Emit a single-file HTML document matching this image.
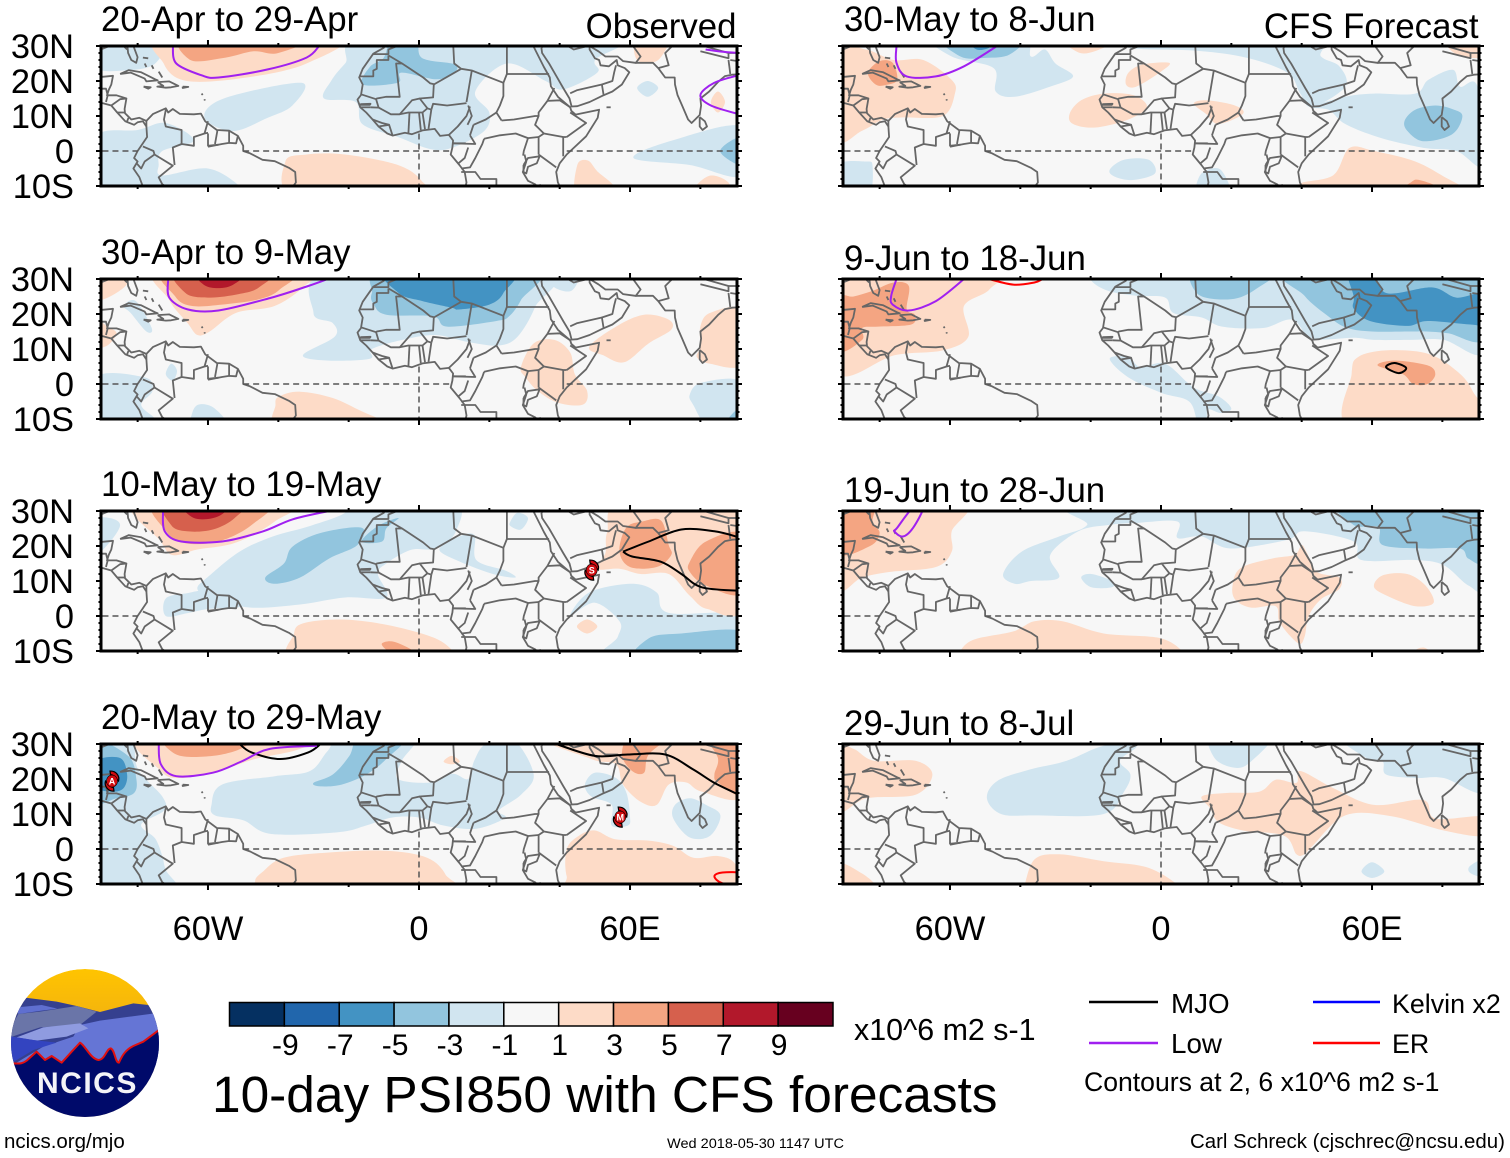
<!DOCTYPE html>
<html>
<head>
<meta charset="utf-8">
<title>10-day PSI850 with CFS forecasts</title>
<style>
html,body{margin:0;padding:0;background:#fff;width:1510px;height:1158px;overflow:hidden}
svg{display:block}
text{font-family:"Liberation Sans",sans-serif;fill:#000}
</style>
</head>
<body>
<svg id="chart" xmlns="http://www.w3.org/2000/svg" width="1510" height="1158" viewBox="0 0 1510 1158">
  <defs id="defs">
    <linearGradient id="sky" x1="0" y1="0" x2="0" y2="1">
      <stop offset="0" stop-color="#ffc400"/><stop offset="0.8" stop-color="#e49c22"/>
    </linearGradient>
    <clipPath id="logo-clip"><circle cx="85" cy="1043" r="74"/></clipPath>
  </defs>
  <g id="panels"></g>
  <g id="colorbar"></g>

  <text x="854" y="1040" font-size="30.4">x10^6 m2 s-1</text>
  <text x="212" y="1112" font-size="51.4">10-day PSI850 with CFS forecasts</text>

  <g>
    <line x1="1089" y1="1002" x2="1158" y2="1002" stroke="#000" stroke-width="2.5"/>
    <text x="1171" y="1013" font-size="27.8">MJO</text>
    <line x1="1089" y1="1043" x2="1158" y2="1043" stroke="#a020f0" stroke-width="2.5"/>
    <text x="1171" y="1053" font-size="27.8">Low</text>
    <line x1="1313" y1="1002" x2="1380" y2="1002" stroke="#0000ff" stroke-width="2.5"/>
    <text x="1392" y="1013" font-size="26.8">Kelvin x2</text>
    <line x1="1313" y1="1043" x2="1380" y2="1043" stroke="#ff0000" stroke-width="2.5"/>
    <text x="1392" y="1053" font-size="26.8">ER</text>
    <text x="1084" y="1091" font-size="26.6">Contours at 2, 6 x10^6 m2 s-1</text>
  </g>

  <g clip-path="url(#logo-clip)">
    <circle cx="85" cy="1043" r="74" fill="url(#sky)"/>
    <g transform="translate(0 950) scale(0.3333)">
      <path d="M20,240 L75,143 L170,155 L230,168 L300,186 L400,160 L445,165 L490,240 L490,340 L20,340Z" fill="#35408f"/>
      <path d="M20,255 L55,192 L120,185 L230,168 L290,185 L240,225 L120,232 L30,262Z" fill="#6a75a8"/>
      <path d="M50,172 L55,192 L125,182 L172,176 L125,165Z" fill="#5f6fd0"/>
      <path d="M240,225 L300,212 L465,190 L490,240 L490,350 L30,350 L130,290 L220,260Z" fill="#6575d5"/>
      <path d="M50,262 L130,232 L240,220 L265,235 L200,260 L110,272Z" fill="#8f9be0"/>
      <path d="M25,258 L100,270 L170,278 L100,300 L50,330 L25,345Z" fill="#3344c0"/>
      <path d="M40,340 C60,342 70,340 80,332 L110,305 L135,330 L155,318 L185,338 L215,305 L240,278 C255,285 270,325 295,330 C315,330 320,295 332,295 C345,300 345,338 357,338 C365,320 375,300 400,288 L430,275 L490,230 L490,520 L20,520 L20,340Z" fill="#000a6a"/>
      <path d="M40,340 C60,342 70,340 80,332 L110,305 L135,330 L155,318 L185,338 L215,305 L240,278 C255,285 270,325 295,330 C315,330 320,295 332,295 C345,300 345,338 357,338 C365,320 375,300 400,288 L430,275 L480,238" fill="none" stroke="#e01010" stroke-width="6" stroke-linejoin="round"/>
    </g>
    <text x="37" y="1093" font-size="30" font-weight="bold" letter-spacing="1.5" style="fill:#f4f4f8">NCICS</text>
  </g>

  <text x="4" y="1148" font-size="20.5">ncics.org/mjo</text>
  <text x="667" y="1148" font-size="13.5" textLength="177" lengthAdjust="spacingAndGlyphs">Wed 2018-05-30 1147 UTC</text>
  <text x="1190" y="1148" font-size="20.45">Carl Schreck (cjschrec@ncsu.edu)</text>
</svg>

<script>
// ---------- Tick labels and panel text ----------
const panelTitles = ["20-Apr to 29-Apr","30-Apr to 9-May","10-May to 19-May","20-May to 29-May","30-May to 8-Jun","9-Jun to 18-Jun","19-Jun to 28-Jun","29-Jun to 8-Jul"];
const latTicks = [30,20,10,0,-10];
const latTickLabels = ["30N","20N","10N","0","10S"];
const lonTicks = [-60,0,60];
const lonTickLabels = ["60W","0","60E"];
const colorLevels = [-9,-7,-5,-3,-1,1,3,5,7,9];
const shadeColors = ["#053061","#2166ac","#4393c3","#92c5de","#d1e5f0","#f7f7f7","#fddbc7","#f4a582","#d6604d","#b2182b","#67001f"];

// ---------- PSI850 anomaly shading: [band level, [lon,lat, lon,lat, ...]] ----------
const field20Apr = [
 [-1,[-92,33,-73,33,-75,25,-84,23,-92,24]],
 [-1,[-61,9.5,-55.5,15,-33.5,19.5,-36,13,-43,9.5,-53,5.7]],
 [-1,[-13,33,-21,25,-25,20,-27,15,-18,14,-16,7.6,-6,4,3.4,.5,9.6,1,18.5,5.7,20,11,16,17,25,25,36,20,41,17.6,50.7,22.4,50,26,55.5,33]],
 [-1,[-92,4,-80,6,-72,8,-64,3,-73,0,-74,-4,-73,-7,-60,-5,-51,-10,-50,-13,-92,-13]],
 [-1,[61,-2,72,3,92,7,92,-7,77,-4]],
 [-1,[62,18,65,20,68,18,65,15.5]],
 [-3,[-7.5,33,-.7,33,.7,26.7,10,24.8,10,22.4,5,20.5,-5,22.4,-6,19.5,-16,19,-14,24,-10,26.7]],
 [-3,[85.6,0,92,4,92,-4]],
 [1,[-72,33,-72.6,25,-66,20,-49,21,-32,25,-22.6,33]],
 [1,[-38,-3,-32,-1,-21,-1,-6,-4,.7,-8.5,.7,-13,-35,-13]],
 [1,[45,-4,48,-2.7,50.6,-5.7,55.5,-11,45,-13]],
 [1,[78.7,-10,83,-7,88,-9,88,-13,78,-13]],
 [1,[62,33,62,26,68,26,71,33]],
 [1,[83,14,85,17,87,14,85,11]],
 [3,[-66,33,-65,26,-55,26.7,-47,28.5,-40,28,-31,33]]
];
const field30Apr = [
 [-1,[-24.5,33,-30,20.3,-24.5,17.4,-24,13.5,-33,8.2,-25.6,6.7,-14,7.2,-13.4,10,-4.7,12.6,4.7,14,14,12,22.7,11,28,13.5,33,22,36,33]],
 [-1,[36,33,38,28,43,26.5,45.5,30,45.5,33]],
 [-1,[-84,22.3,-80.5,23.7,-76,16,-77.5,15,-82,20.3]],
 [-1,[-72,2.8,-70.5,5.8,-68.8,3.8,-70,1]],
 [-1,[-92,1.9,-78,1.9,-75.8,-2,-79,-6,-75,-10,-75,-13,-92,-13]],
 [-1,[-64.7,-9,-63,-6,-59,-6.4,-55,-10.3,-55,-13,-65,-13]],
 [-1,[77,-3,80.4,.4,92,.4,92,-13,82.8,-13,78,-6]],
 [-3,[-13.4,26,-12.8,22.7,-9.3,19.8,4,19.3,8,16.4,22,18,25.6,19.3,29,24,33,33,-9.3,33]],
 [-3,[87.4,-11,92,-6.4,92,-13]],
 [-5,[-8.7,33,-5.8,26,1,23.7,9.3,21.8,11.6,21.3,20,22.7,24,26,25.6,33]],
 [1,[-73.4,33,-71,24,-65.8,17.4,-63,14,-59.5,15,-52,20.3,-41,22.3,-32.6,28,-30,33]],
 [1,[-92,33,-82,33,-84,27.5,-92,24]],
 [1,[-92,18.4,-88.6,16.4,-86,14.5,-88.6,11,-92,11]],
 [1,[29,4.8,32.6,11.6,38.5,12.6,43,9,44.3,2.8,47.8,-2,46.6,-5.9,39.6,-5.4,33.8,-2,30.3,1.9]],
 [1,[48.4,10.6,56,16.4,64,19.8,71,18.4,71.7,15.5,65.3,11.6,58.3,6.2,52.4,8.2]],
 [1,[80,10.6,80,16.4,82.8,20.3,92,21,92,5.8,82.8,5.8,79,7.7]],
 [1,[-40.8,-5.9,-39.6,-3.5,-33.8,-2.2,-24.5,-4,-16.3,-7.8,-9.3,-11,-9,-13,-39,-13]],
 [3,[-71.7,33,-69.3,25,-64.7,22.3,-56,22.7,-45.5,24.2,-39.6,27,-36,33]],
 [5,[-68.7,33,-66.4,26,-59.5,24.7,-51.3,25.7,-45.5,27.6,-42,33]],
 [7,[-63.5,33,-60.6,28,-53.6,28,-49,33]]
];
const field10May = [
 [-1,[-59.5,11.6,-51,18.4,-41.6,22.7,-31,25.7,-21,29.5,-21,33,9.3,33,10.5,24.2,4.7,19.3,-2.3,18.9,-9.3,15,-11.7,12,-9.3,5.3,-21,5.3,-33.8,3.3,-47.8,2.4,-58,4.8,-63,7.7]],
 [-1,[-72,5,-66,6.5,-60,7,-50,3,-60,2,-66,.8,-72,0]],
 [-1,[5.8,18.9,10.5,22.3,15.7,23.2,16.3,16,24.5,13,27.4,11,21,12,11.7,15.5]],
 [-1,[26,27,28,29.5,31,28,29,24.7,26,25.7]],
 [-1,[-92,27,-88,28,-85,26,-88,21,-92,18]],
 [-1,[43,0,48.4,6.7,60.6,9.2,67.6,6.7,71,.9,92,0,92,-13,53,-13,56.5,-6,57,-1.5,50,3.8]],
 [-3,[-43.7,11,-38.4,15,-36,19.8,-28,23.7,-16.3,25.2,-17.5,20.3,-25.6,16.4,-33.8,11,-41,9.2]],
 [-3,[-16.3,21.3,-11.7,25.7,-5.8,28,-9.3,25,-10.5,21.3]],
 [-3,[62.3,-13,65.3,-6.4,74.6,-5,92,-4.4,92,-13]],
 [1,[-80.4,33,-73.4,21.3,-70,17.4,-63,19,-52,21,-41,27,-36,33]],
 [1,[58,33,53.5,24,53,18,50.5,13.5,57,13.5,63,12,71,12,77,5.8,82,2,92,2.4,92,33]],
 [1,[-35.5,-5,-32.6,-2,-22,-1,-9.3,-2.5,4.7,-6.4,10.5,-11,11,-13,-34,-13]],
 [1,[44.9,-3,47.8,-1,50.7,-3,47.8,-5]],
 [3,[-74.6,33,-71.7,24,-66.4,20.8,-57,21.3,-47.6,26,-43,33]],
 [3,[58.9,25.2,63.5,27,68.8,27.3,71,20.3,71.7,17.4,67.6,14,60,14,57,18.4]],
 [3,[77,15.5,81.6,21.3,92,23.2,92,6.7,81.6,8.7,77,12.6]],
 [3,[-10.5,-7.8,-7,-7.4,-1.2,-10.3,-1,-13,-7,-11,-9.5,-9.5]],
 [5,[-72,33,-70.5,26,-66,24.2,-58.6,24.7,-52.4,28,-50,33]],
 [7,[-67.6,33,-64,28,-57,28.5,-53.6,33]]
];
const field20May = [
 [-1,[-92,33,-82,33,-80,23,-73,15,-72.5,11,-79,7,-75,3,-73,-2,-72,-6,-69,-13,-92,-13]],
 [-1,[-59,12.6,-56,18.4,-41,20.8,-31,22.3,-26,28,-21,33,-1,33,-5,25,-6,20,3.5,19,9.5,21.5,14,20,15.7,25.2,19,30,27,31,32.6,21.3,29,15.5,22.7,11,24.5,8.9,16.3,5.8,7,6.7,0,9,-7.6,9,-15,6.7,-23,4.8,-42,4.3,-50,8.2,-58,9.6]],
 [-1,[47.2,18.4,50,21.8,56,20.3,59,16,60,9.2,59.4,6.7,54.8,6.7,54.8,12.6,49,15]],
 [-1,[72.3,8.7,72.8,12.6,77,14.5,81.6,12.6,85.7,9.6,82.8,3.8,77,3.3]],
 [-3,[-30,18.9,-24.5,21.3,-19.8,26.6,-16.3,33,-3,33,-9.3,25.7,-15,21.3,-22,18.4,-28,17.9]],
 [-3,[-92,30,-82.7,26.6,-80.4,20.3,-81,16,-86,14.5,-92,14]],
 [-5,[-92,25,-85,26,-83,21.3,-84,17.4,-87.4,16.4,-92,18]],
 [1,[-78.7,33,-73.4,22.3,-67.6,20.3,-57,22.3,-46.6,25.7,-33.8,28.6,-28,33]],
 [1,[7,25,9.3,26.6,11.6,25,9.3,24.2]],
 [1,[36,33,49,25.7,56,24.2,58,18.4,63,13.5,67.6,12.6,71,18.4,76,19,80.4,16.4,92,15,92,33]],
 [1,[42,-7.8,42,0,45.5,3.8,50,5.3,55.8,2.8,65.3,2.4,72.3,.9,78,-2.5,85,-2,90,-4.4,92,-13,45.5,-13]],
 [1,[-46.6,-9.3,-44.3,-6.4,-38.5,-2.5,-25.6,-1,-9.3,-.5,2.3,-2.5,7.6,-7.4,8,-13,-44,-13]],
 [3,[-72,33,-69,27,-58.6,26.6,-50,29,-48,33]],
 [3,[57.7,27,60.6,33,71.7,33,65.3,27,64,21.8,60.6,22.3]],
 [3,[81.6,33,85,26,84,21.3,85,19,92,16,92,33]]
];
const field30May = [
 [-1,[-65.3,33,-59.5,27,-47.6,23.7,-47,17,-41.6,15.5,-31.5,18.4,-25,21.3,-30,25,-33,29,-37,27,-40,33]],
 [-1,[-9.3,33,-9.3,29.5,10.5,28.6,24.5,26.6,36,22.3,39.6,16.4,43,12.6,52.4,18.4,50.7,24.2,45.5,27,42,33]],
 [-1,[43,12.6,52.4,15.5,60.6,16.4,72.3,16.4,76,20.3,83,23.2,85,18.4,90,18.4,92,-4,84,0,74.6,.9,62.3,3.8,52.4,7.7,47.8,11.7]],
 [-1,[-14.6,-5.4,-10.5,-2.5,-3.5,-2.5,-1.7,-6.4,-8,-8.3,-13,-7.4]],
 [-1,[10,-9.8,12,-6,17,-5.4,19.6,-13,10,-13]],
 [-1,[-92,-4,-84,-3,-82,-4.4,-83.3,-13,-92,-13]],
 [-3,[-62.4,33,-57,27,-50,26.6,-43,27.6,-39.6,33]],
 [-3,[69.3,8.7,72.3,11.8,78,13,82.8,12,85.7,10,82.8,4.8,74.6,2.8,70,5.8]],
 [-5,[-55.8,33,-52.4,29,-48,30,-47,33]],
 [1,[-92,28.6,-84,29,-76,26,-67.6,26,-59.5,20.3,-58.6,16.4,-62,10,-73.4,9.6,-79,9,-85,5.8,-92,3.8]],
 [1,[-28,33,-23,28,-16.3,29.5,-11,33]],
 [1,[80.4,33,84,27.6,92,27,92,33]],
 [1,[-9.9,18.9,-9.3,22.3,-5.3,24.7,2.3,25.2,0,22.7,-7,18.4]],
 [1,[-26,10.6,-22.7,14.5,-16.3,16.4,-8,16,-4,12.6,-9.3,9,-18.6,6.7,-25,7.7]],
 [1,[9.3,13.5,12.8,14.5,21,13,23.3,10.6,16.3,7.7,12.8,10.6]],
 [1,[39.6,-9.3,49,-6.9,53.6,.9,60.6,0,72.3,-3,81.3,-7.8,86.3,-10.7,87,-13,39,-13]],
 [3,[-83.3,22.3,-80,25.7,-76.3,25.2,-75,20.3,-78,18.9,-81,18.9]],
 [3,[66.4,-13,71,-9,73.4,-8.3,79.3,-10.5,80,-13]]
];
const field9Jun = [
 [-1,[-19.8,29.5,-15,26.6,-7,25.2,1.2,24.7,3.5,20.3,11.6,19,17.4,16.4,29,16,37.3,18.4,43,13,54.8,13.2,60.6,12.6,71,12.6,80.4,12.6,92,9.2,92,33,-19.8,33]],
 [-1,[-14.6,7.2,-9.3,7.7,-5.8,4.8,1.2,5.8,9.3,-1,16.3,-3.5,20,-7,17,-8.3,13.4,-7.3,12.8,-11,10.5,-11,8,-5,0,-2.5,-9.3,1.9]],
 [-3,[10,33,10.5,25.7,19.8,24.2,26.8,27,32.6,33]],
 [-3,[36.7,33,40.8,25.2,48,19,53,16,60,15,71,15,75.5,15,81.6,14.5,92,13,92,33]],
 [-5,[53,33,54.8,25,54.8,21.5,59.4,18,70,16.6,75.8,18,88,17,92,17.4,92,25.7,84,24.7,77,27.6,64,26,60,33]],
 [1,[-92,33,-47.6,33,-48.8,27,-56,22.3,-54.8,13.5,-62,9.6,-75.8,8.2,-92,3.3]],
 [1,[54.2,2.8,56,7.7,64,9.6,75.8,8.7,84,3.8,88.6,-2,92,-13,54.2,-13]],
 [3,[-92,24.2,-87.4,25,-82,26.6,-76,29,-71.7,28,-72.3,21.3,-70,19.8,-71,17,-80.4,16.4,-85,16,-85,12.6,-92,9.6]],
 [3,[61.6,5.3,66.4,6.7,75.8,5.3,78,2.8,75.8,0,71.7,0,68.8,2.8]]
];
const field19Jun = [
 [-1,[-44.9,12,-39.6,18.4,-29,22.7,-21,26,-19.8,33,92,33,92,8.7,87.4,8.7,80.4,14.5,72.3,16,57,16,54.8,21.3,40.8,24.2,36,21.8,19.8,19.3,11.6,22.7,4.7,22.3,4.7,27,-7,26.6,-15,26,-23.5,24.2,-31.5,17.4,-29,11,-37,10,-41.6,9.2]],
 [-1,[-22.7,11,-19.8,12,-14,10,-14,8.2,-19.8,8.2]],
 [-3,[52,33,54.8,26,61.8,25.4,63,20.3,74.6,19.3,85,19.3,87.4,16.4,92,16,92,33]],
 [1,[-92,33,-56,33,-59.5,24.2,-59.5,18.4,-64,14,-77,12.6,-85,11,-92,8.2]],
 [1,[20.4,9,22.7,13.7,31.5,16.4,38,17.5,40,20.3,41.5,18,44.3,12.6,50.7,11,50.7,7.7,45.5,4.8,42,0,40.8,-6,39,-7.8,33.8,-2,32.6,2.8,25.6,2.4,21,4.8]],
 [1,[60.6,8.2,63,11.6,70,12,75.2,8.7,77.5,3.8,72.3,2.8,65.3,5.3]],
 [1,[-57.7,-11,-53.6,-6.9,-42,-4.4,-36,-1.5,-28,-1.5,-16.3,-5,0,-6.4,7,-11,7,-13,-58,-13]],
 [1,[71.7,-10.3,74.6,-9,77.5,-11,77,-13,72,-13]],
 [3,[-92,33,-81.6,33,-82,27,-80,23.7,-82.7,20,-92,18]]
];
const field29Jun = [
 [-1,[-49.5,14.5,-46.6,19.4,-37.3,22.7,-26.8,25.2,-16.3,29.5,-7,29.5,-11.7,25.2,-8.7,21.3,-10.5,16.4,-16.3,10,-36,9.6,-45.5,10]],
 [-1,[14.6,33,15.2,26,21,23.2,25.6,25,31.5,33]],
 [-1,[53,33,58.3,26,63,25,64,21.3,72.3,20.3,80.4,20.3,92,16.4,92,33]],
 [-1,[57,-6.4,60,-3.8,63.5,-6.4,60,-8.3]],
 [-1,[87.8,-4.9,92,-3,92,-7.8,88,-6.9]],
 [1,[-92,28.6,-87.4,28.6,-81.6,25.2,-69.8,25.2,-65,21.3,-69.8,15.5,-83.7,14.5,-92,11]],
 [1,[11.6,15,18.6,16,28,16.4,32.6,19.8,38.5,18.9,39.6,22.3,49,17.4,60.6,12.6,74.6,14,78,8.7,92,9.2,92,3.8,80.4,5.3,65.3,9.4,52.4,9.6,43.1,.9,40.8,-1.5,38.5,-1.5,35,3.8,23.3,5.3,16.3,7.7,14,11.6]],
 [1,[-39,-11,-36,-3,-29,-1.5,-16.3,-3.5,-3.5,-5.4,5.8,-11,6,-13,-40,-13]],
 [1,[-92,-4.1,-85,-7,-80.4,-11,-80,-13,-92,-13]]
];

// ---------- Contours of filtered anomalies: [kind, closed flag, [lon,lat, ...]] ----------
const contours20Apr = [
 ["low",0,[-70,30,-69,25,-62,21.7,-57,21,-43,23.3,-32,26.7,-28.4,30]],
 ["low",0,[81.5,29,86,28.4,91,28]],
 ["low",0,[91,21.7,84,19.5,80,16,83,13,91,10.5]]
];
const contours30Apr = [
 ["low",0,[-71.3,30,-71,24.7,-65.8,21.3,-57,21,-41.9,24.7,-31.5,28,-26,30]]
];
const contours10May = [
 ["low",0,[-72.8,30,-72.3,24.2,-67.6,21.3,-56,21.3,-44.3,24.2,-36,27.6,-25.6,30]],
 ["mjo",0,[91,22.5,84,24.2,74.6,24.7,65.3,21.3,58,18.4]],
 ["mjo",0,[58,18.4,60.6,17,68.8,15.5,74.6,12,80.4,8.2,91,7.2]]
];
const contours20May = [
 ["mjo",0,[-51,30,-47.6,27.6,-39.5,25.7,-31.5,27.6,-28,30]],
 ["low",0,[-74,30,-73.4,24.2,-69,20.8,-58.6,21.8,-50.5,25,-42.4,28.6,-29,29.5]],
 ["mjo",0,[39,30,50,26.6,59.4,27,70,27,78,22.7,84,18.9,91,15.5]],
 ["er",1,[84,-7.8,86.3,-6.7,92,-7,92,-9.8,86.3,-9.8]]
];
const contours30May = [
 ["low",0,[-75.2,30,-75.2,25.2,-72.3,21.3,-64,21.3,-56,24.2,-46.6,30]]
];
const contours9Jun = [
 ["mjo",1,[64,4.8,66.4,6,69.7,4.6,67.6,3.1]],
 ["low",0,[-75.2,30,-76.7,25.2,-76.3,22.7,-71.7,21,-64,23.7,-56,30]],
 ["er",0,[-49,30,-42,28.4,-36,29,-33.6,30]]
];
const contours19Jun = [
 ["low",1,[-75,25.2,-70.5,31,-67.6,31,-70.5,25.2,-73.4,22.7,-75.8,24.2]]
];
const contours29Jun = [];

// ---------- Tropical cyclone markers: [letter, lon, lat, panel index] ----------
const stormLetters = ["S","A","M"];
const stormLons = [49.1,-87.3,57.2];
const stormLats = [13.1,19.4,9.1];
const stormPanels = [2,3,3];

// ---------- Base map (lon,lat) ----------
const coastlines = [
 [-83,31,-82.7,28,-81.8,26,-80.4,25.2,-80,26.8,-81,29.5,-81.4,31],
 [-92,30,-90,29.2,-87,30.4,-84,30,-83,29],
 [-92,21,-90,21.2,-87,21.5,-87.5,19,-88.2,17.5,-88.7,15.9,-86,15.9,-83.2,15,-83.7,12,-83.6,10.8,-81.8,9,-79.5,9.5,-77.5,8.6,-75.6,10.6,-72,12.2,-71.3,11,-70,12,-68,10.6,-64,10.5,-62,10.7,-60.8,8.5,-57.5,6,-54,5.8,-51.5,4.3,-50,1.5,-50,0,-48,-.7,-44.5,-2.5,-41,-2.9,-37,-4.8,-35.2,-6,-35,-9,-36.5,-11],
 [-92,14,-90,13.7,-87.5,13,-85.8,11,-83.5,8.5,-81,7.5,-80,8.2,-78.5,8.5,-77.5,7,-77.3,4,-79,1.5,-80,0,-81,-2,-80,-3,-81.2,-5,-79.5,-7.5,-78.2,-11],
 [-85,22,-82.5,23.1,-79,22.5,-75,20.5,-74.3,20.2,-77.5,19.9,-78,20.7,-82,22.4,-85,22],
 [-74.3,19.7,-71,19.9,-68.4,18.6,-70.5,18.2,-72,18.1,-74.4,18.4,-72.7,18.6,-74.3,19.7],
 [-78.3,18.4,-76.3,18.2,-77,17.8,-78.3,18.4],
 [-67.2,18.4,-65.6,18.3,-67.2,18,-67.2,18.4],
 [-78.5,26.7,-77,26.5],[-78,25,-77.5,24],[-76,24.5,-75.5,23.5],[-74,22.7,-73,21],
 [-61.8,16.4,-61.5,16],[-61,14.8,-60.9,14.4],
 [-9.5,31,-10,29.5,-13,27.8,-16,23.5,-17,21,-16,19,-16.5,16,-17.5,14.7,-16.7,12.5,-15,11,-13.2,9,-11.5,7,-9,5,-7.5,4.4,-4,5.2,-2,4.8,1,5.9,4.5,6.3,6,4.3,8.5,4.6,9.7,3,9.5,1,9,-1,11.5,-4,13,-6,13.5,-9,13,-11],
 [32.5,31,32.5,30,34,27,35.5,24,37.2,21,37.5,18.5,39.5,15.5,43,12.5,43.3,11.5,44.5,10.4,51.2,11.8,50.8,9.5,47.5,4.2,42,-1,40,-3.5,39,-6,39.5,-9,40.5,-11],
 [34.8,29.5,35,28,37,25,39,21.5,41,18,42.8,15,43.4,12.7,45,12.8,48.5,14,52.2,15.8,55,17,57.7,19,59.8,22.5,58.5,23.7,56.5,24.5,56.2,26,54,24.2,51.6,24.5,51.2,26,50,26.5,48.5,29,48.5,31],
 [48.5,30,51,28.5,53,27,56.5,27,58,25.7,61.5,25.2,66.5,25.2,68,23.7,70,21,72.7,21,72.8,19,73.5,16,74.8,13,76.5,9,77.5,8,79.8,10.3,80.2,13,80,15,82.5,17,85,19.7,87,21.4,89,21.8,92,22],
 [79.8,9.7,81.3,8.5,81.9,7,80.6,6,79.8,7,79.8,9.7],
 [53.3,12.5,54.5,12.5],
 [29.7,-4,31,-2,34.3,-1.5,33.5,-3.5,31,-4.5,30.5,-6.4,29.7,-6,29.7,-4],
 [34.3,-9.5,34.8,-11]
];
const borders = [
 [-13,27.7,-8.7,27.7,-8.7,29,-5,30.5,-1.5,32],
 [-17,21.3,-13,21.3,-13,23,-12,23.5,-12,26,-8.7,26,-8.7,27.3],
 [-8.7,27.3,-4.8,25,-6.5,25,-5.5,15.5,-9.3,15.5,-12,15,-12.2,14.8,-16.5,16.2],
 [-4.8,25,1.2,21,3.2,19.3,4.2,19.1],[4.2,19,4,15.3,.2,15,2.4,12.2,3.5,11.8],
 [4.2,19,12,23.5],[9.7,31,10,25,12,23.5],[12,23.5,15,23,24,19.5],[25,32,25,22,37,22],[25,22,24,19.5],
 [24,19.5,24,15.7,23,13,22,11,23.5,8.7],[15,23,13.5,14],[3.5,11.8,4,13.5,8,13,13.5,13.7],
 [14,13,15,10,13.8,7.5],[2.7,6.3,3.5,11.8],[8.5,4.6,11,7,13.5,10,14.5,12.7],[15.5,7.5,19,9,22,11],
 [14.5,4.5,15.5,7.5],[9.7,2.2,16,2,14.5,4.5],[18.5,3.5,23,4.5,27.5,5,31,3.7],
 [23.5,8.7,27,9,33,10,34,10],[36.5,14.3,34,11,34,10,33,7.5,35.5,5],[35.5,5,41,4,42,4],[42,4,47.5,8,43,11],
 [36.5,14.3,40,14.5,43,12.5],[36.5,14.3,38.5,18],[34,4,35.5,5],[34,4,34,-1],[31,3.7,34,4],[31,3.7,29.8,0,29.6,-1.3],
 [41,4,41,-1.5],[34,-1,39,-4.7],[30,-1,30.5,-3,29.5,-6,31,-8.5,33,-9.5,34.5,-11],[40.5,-10.5,37,-11.5],
 [12,-6,16,-6,17.5,-8,22,-8,22,-11],[12,-5,14.5,-4.7,16,-2,18,2,18.5,3.5],[11,-3.7,13,-2,14,1],[9.7,2.2,13.3,2.2],
 [-12.2,14.8,-11.5,12.4],[-13.7,12.5,-11.5,12.4,-8,10.5,-5.5,10.5,-3,11,1,11,2.4,12.2],[-3,5,-2.7,11],
 [.2,15,-2,14.5,-5.5,10.5],[.5,6,0,11],[1.7,6.2,1,11],[-11.5,7,-8.5,7.5,-7.5,4.4],[-13.2,9,-10.5,8,-8.5,7.5],
 [-16.7,13.4,-13.8,13.5,-14,13.2,-16.8,13.2],[-16.7,12.5,-13.7,12.5],
 [43,16.5,45,17.4,52,19,52.5,16],[52,19,55,20,55.5,22.5,56,24.5],[48,30,44,29,39,32],[34.8,29.5,37,32],
 [61.5,25,63,27,61,29.8,60.8,32],[68,23.7,71,24.5,70,28,74,32],[80,28.5,88,26.5,88,28,90,28],[79,31,81,30,88,28],[88,26,88.5,22],[88.5,26,92,25.5],
 [-72,11.8,-72.5,9,-72,7,-67.5,6,-67.5,2,-70,1,-69.5,-4],[-67.5,2,-64,1.5,-64,4,-61,5,-60,5.2],[-60,8.5,-61,5],
 [-60,5,-60,1.5,-57,1.8],[-57.3,6,-58,2],[-54,5.8,-54,2.3],[-60,1.2,-56,2,-54,2.3,-52,2.2,-51.5,4.3],
 [-78.5,1.3,-75.5,0,-75.2,-1,-78,-3,-79,-5,-80.3,-3.5],[-75.2,-1,-70,-4.2,-74,-7.5,-73,-9.5,-70.5,-11],
 [-92,17.8,-89,17.8,-88.5,15.9],[-89,14,-88.5,15.9],[-87.5,13,-85,14.8,-83.2,15],[-85.8,11,-83.7,11],[-83,8.5,-82.6,9.5],[-77.5,8.6,-77.5,7]
];
const oceanEquatorSpans = [[-90,-80],[-50,9],[42,90]];
const primeMeridianLats = [5,-10];

// ---------- Fields by panel ----------
const panelFields = [field20Apr,field30Apr,field10May,field20May,field30May,field9Jun,field19Jun,field29Jun];
const panelContours = [contours20Apr,contours30Apr,contours10May,contours20May,contours30May,contours9Jun,contours19Jun,contours29Jun];
const contourColors = {mjo:"#000000",low:"#a020f0",er:"#ff0000",kelvin:"#0000ff"};

// ---------- Layout ----------
const NS = "http://www.w3.org/2000/svg";
const plotWidth = 636, plotHeight = 140;
const pxPerDegree = 3.517;
const columnCenters = [419,1161];
const titleLefts = [101,844];
const rowTops = [46,279,511,744];
const titleOffsets = [[-15,-15,-15,-15],[-15,-9,-9,-9]];

function make(tag, attrs, parent, txt){
  const e = document.createElementNS(NS, tag);
  for (const k in attrs) e.setAttribute(k, attrs[k]);
  if (txt !== undefined) e.textContent = txt;
  parent.appendChild(e);
  return e;
}
function xAxis(lon, center){ return center + lon * pxPerDegree; }
function yAxis(lat, top){ return top + (30 - lat) / 40 * plotHeight; }
function project(arr, center, top){
  const p = [];
  for (let i = 0; i < arr.length; i += 2) p.push([xAxis(arr[i], center), yAxis(arr[i+1], top)]);
  return p;
}
function f(n){ return n.toFixed(1); }
function polyPath(p){ return "M" + p.map(a => f(a[0]) + "," + f(a[1])).join("L"); }
function smoothPath(p, closed){
  const n = p.length;
  const at = i => closed ? p[(i + n) % n] : p[Math.max(0, Math.min(n - 1, i))];
  let d = "M" + f(p[0][0]) + "," + f(p[0][1]);
  const last = closed ? n : n - 1;
  for (let i = 0; i < last; i++){
    const a = at(i-1), b = at(i), c = at(i+1), e = at(i+2);
    d += "C" + f(b[0] + (c[0]-a[0])/6) + "," + f(b[1] + (c[1]-a[1])/6) + " " +
         f(c[0] - (e[0]-b[0])/6) + "," + f(c[1] - (e[1]-b[1])/6) + " " + f(c[0]) + "," + f(c[1]);
  }
  return closed ? d + "Z" : d;
}
function levelColor(level){
  const i = colorLevels.indexOf(level);
  return level < 0 ? shadeColors[i] : shadeColors[i + 1];
}

const panelsRoot = document.getElementById("panels");
const defs = document.getElementById("defs");

panelTitles.forEach((title, idx) => {
  const col = idx < 4 ? 0 : 1, row = idx % 4;
  const center = columnCenters[col], top = rowTops[row];
  const left = center - plotWidth / 2;
  const g = make("g", {}, panelsRoot);
  
  

  const clip = make("clipPath", {id:"clip" + idx}, defs);
  make("rect", {x:left, y:top, width:plotWidth, height:plotHeight}, clip);

  const bg = make("rect", {x:left, y:top, width:plotWidth, height:plotHeight, fill:shadeColors[5]}, g);
  
  

  const inner = make("g", {"clip-path":"url(#clip" + idx + ")"}, g);

  panelFields[idx].forEach(entry => {
    const s = make("path", {d:smoothPath(project(entry[1], center, top), true), fill:levelColor(entry[0])}, inner);
    
    
  });

  const mapG = make("g", {fill:"none", stroke:"#666", "stroke-width":"1.8", "stroke-linejoin":"round"}, inner);
  
  
  coastlines.concat(borders).forEach(line => {
    make("path", {d:polyPath(project(line, center, top))}, mapG);
  });

  oceanEquatorSpans.forEach(span => {
    const eq = make("line", {x1:xAxis(span[0],center), x2:xAxis(span[1],center), y1:yAxis(0,top), y2:yAxis(0,top), stroke:"#555", "stroke-width":"1.5", "stroke-dasharray":"6 4"}, inner);
    
    
  });
  const pm = make("line", {x1:xAxis(0,center), x2:xAxis(0,center), y1:yAxis(primeMeridianLats[0],top), y2:yAxis(primeMeridianLats[1],top), stroke:"#555", "stroke-width":"1.5", "stroke-dasharray":"6 4"}, inner);
  
  

  panelContours[idx].forEach(c => {
    const l = make("path", {d:smoothPath(project(c[2], center, top), !!c[1]), fill:"none", stroke:contourColors[c[0]], "stroke-width":"2"}, inner);
    
    
  });

  stormLetters.forEach((letter, i) => {
    if (stormPanels[i] !== idx) return;
    const x = xAxis(stormLons[i], center), y = yAxis(stormLats[i], top);
    const st = make("g", {transform:"translate(" + f(x) + " " + f(y) + ")"}, inner);
    
    
    make("path", {d:"M-2,-10 C4,-10.5 8,-5 6.5,0 L3,-4 C2,-5 0,-6.5 -1.5,-6.5 Z M2,10 C-4,10.5 -8,5 -6.5,0 L-3,4 C-2,5 0,6.5 1.5,6.5 Z", fill:"#d00c10", stroke:"#000", "stroke-width":"1.2"}, st);
    make("ellipse", {cx:0, cy:0, rx:5.5, ry:6, fill:"#d00c10", stroke:"#000", "stroke-width":"0.6"}, st);
    const lt = make("text", {x:0, y:3.2, "font-size":"9", "font-weight":"bold", "text-anchor":"middle", style:"fill:#fff"}, st, letter);
    
    
  });

  // frame + ticks
  const ticks = make("g", {stroke:"#000", "stroke-width":"2"}, g);
  
  
  for (let lon = -80; lon <= 80; lon += 20){
    const len = lon % 60 === 0 ? 6 : 3, x = xAxis(lon, center);
    make("line", {x1:x, x2:x, y1:top, y2:top - len}, ticks);
    make("line", {x1:x, x2:x, y1:top + plotHeight, y2:top + plotHeight + len}, ticks);
  }
  for (let lat = -10; lat <= 30; lat += 2){
    const len = lat % 10 === 0 ? 5 : 2.5, y = yAxis(lat, top);
    make("line", {x1:left, x2:left - len, y1:y, y2:y}, ticks);
    make("line", {x1:left + plotWidth, x2:left + plotWidth + len, y1:y, y2:y}, ticks);
  }
  const frame = make("rect", {x:left, y:top, width:plotWidth, height:plotHeight, fill:"none", stroke:"#000", "stroke-width":"3"}, g);
  
  

  const t = make("text", {x:titleLefts[col], y:top + titleOffsets[col][row], "font-size":"34.8"}, g, title);
  
  

  if (col === 0){
    latTicks.forEach((lat, i) => {
      const yl = make("text", {x:74, y:yAxis(lat, top) + 12, "font-size":"34.4", "text-anchor":"end"}, g, latTickLabels[i]);
      
      
    });
  }
  if (row === 3){
    lonTicks.forEach((lon, i) => {
      const xl = make("text", {x:xAxis(lon, center), y:940, "font-size":"34.4", "text-anchor":"middle"}, g, lonTickLabels[i]);
      
      
    });
  }
  if (row === 0){
    const lab = make("text", {x:center + 318 - 0.5, y:38, "font-size":"34.8", "text-anchor":"end"}, g, col === 0 ? "Observed" : "CFS Forecast");
    
    
  }
});

// ---------- Colorbar ----------
const cb = document.getElementById("colorbar");
const cbLeft = 229.5, cbTop = 1002.5, cbCell = 603.5 / shadeColors.length, cbHeight = 23.5;
shadeColors.forEach((color, i) => {
  const r = make("rect", {x:cbLeft + i * cbCell, y:cbTop, width:cbCell, height:cbHeight, fill:color, stroke:"#000", "stroke-width":"1.5"}, cb);
  
  
});
colorLevels.forEach((level, i) => {
  const lbl = make("text", {x:cbLeft + 1 + (i + 1) * cbCell, y:1055, "font-size":"30", "text-anchor":"middle"}, cb, String(level));
  
  
});
</script>
</body>
</html>
